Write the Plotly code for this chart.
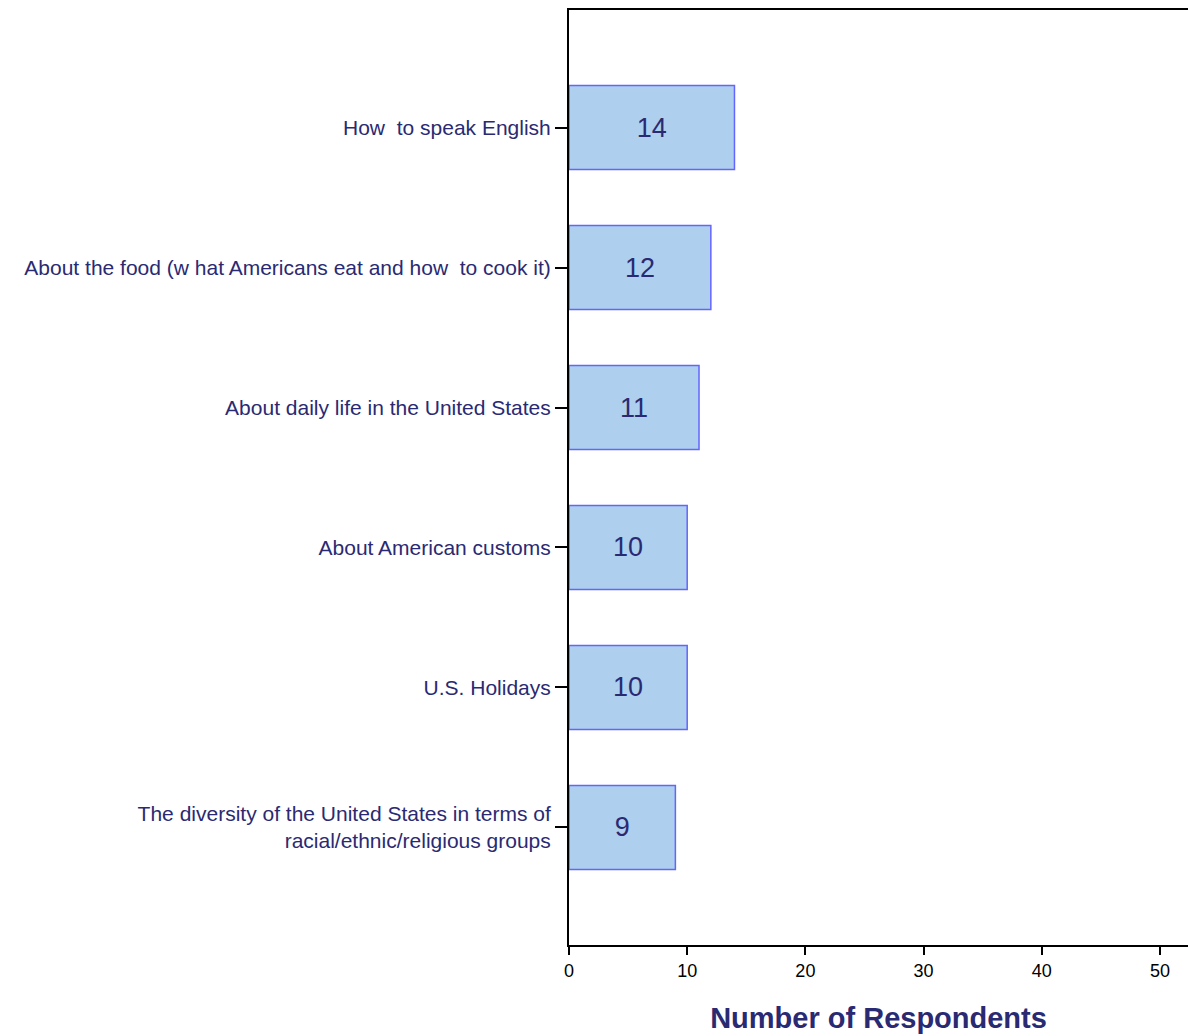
import plotly.graph_objects as go

# Survey topics (top to bottom) and respondent counts
topics = [
    "How  to speak English",
    "About the food (w hat Americans eat and how  to cook it)",
    "About daily life in the United States",
    "About American customs",
    "U.S. Holidays",
    "The diversity of the United States in terms of<br>racial/ethnic/religious groups",
]
respondents = [14, 12, 11, 10, 10, 9]
x_ticks = [0, 10, 20, 30, 40, 50]

NAVY = "#2a2a72"

fig = go.Figure(
    go.Bar(
        x=respondents,
        y=topics,
        orientation="h",
        width=0.6,
        marker=dict(color="#aecfee", line=dict(color="#6464ff", width=1.5)),
        text=[str(v) for v in respondents],
        textposition="inside",
        insidetextanchor="middle",
        textangle=0,
        textfont=dict(family="Liberation Sans, Arial, sans-serif", size=27, color=NAVY),
        hoverinfo="skip",
    )
)

fig.update_layout(
    width=1188,
    height=1036,
    margin=dict(l=569, r=0, t=10, b=91),
    paper_bgcolor="white",
    plot_bgcolor="white",
    showlegend=False,
    font=dict(family="Liberation Sans, Arial, sans-serif", color=NAVY),
)

fig.update_xaxes(
    range=[0, 52.37],
    tickvals=x_ticks,
    ticktext=[str(t) for t in x_ticks],
    ticks="outside",
    ticklen=8,
    tickwidth=2,
    tickcolor="black",
    tickfont=dict(size=18, color="black"),
    showline=True,
    linecolor="black",
    linewidth=2,
    mirror=True,
    showgrid=False,
    zeroline=False,
    title=dict(
        text="<b>Number of Respondents</b>",
        font=dict(size=29, color=NAVY),
        standoff=28,
    ),
)

fig.update_yaxes(
    type="category",
    range=[5.84, -0.84],
    ticks="outside",
    ticklen=12,
    tickwidth=2,
    tickcolor="black",
    tickfont=dict(size=21, color=NAVY),
    ticklabelstandoff=0,
    showline=True,
    linecolor="black",
    linewidth=2,
    showgrid=False,
    zeroline=False,
)

fig.write_html("out.html")
